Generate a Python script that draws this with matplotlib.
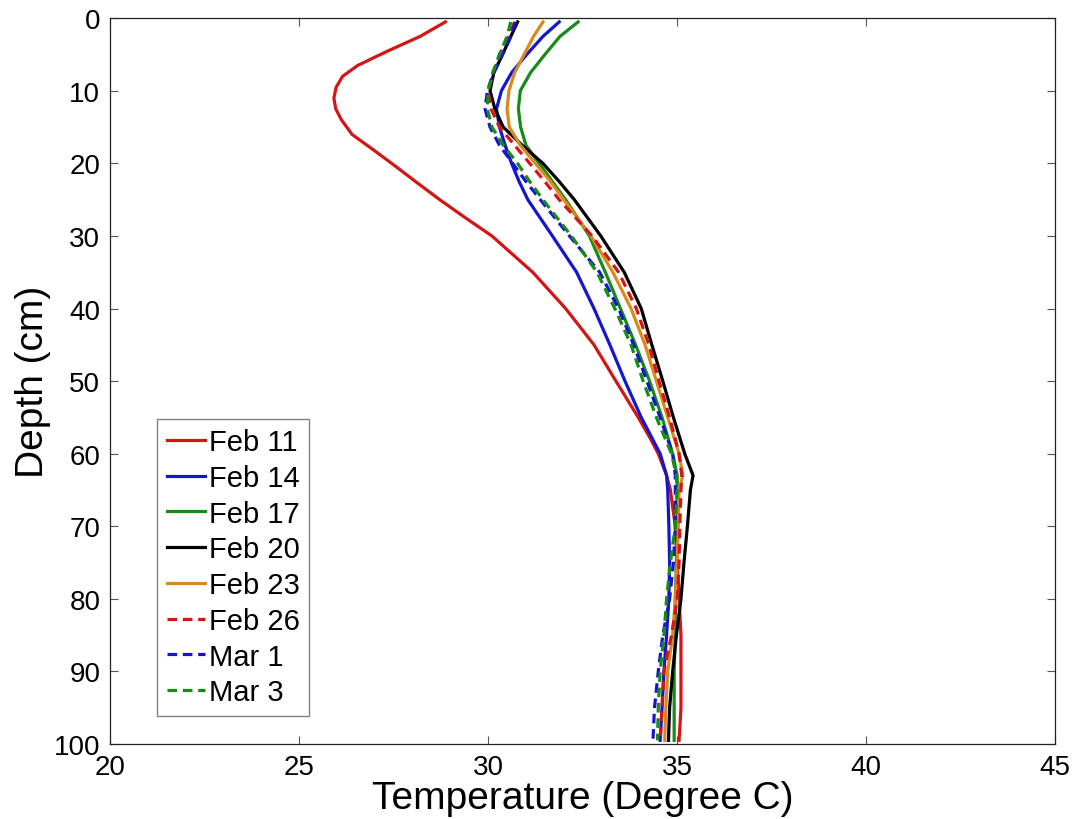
import matplotlib
matplotlib.use("Agg")
import matplotlib.pyplot as plt

plt.rcParams['font.family'] = ['Liberation Sans', 'DejaVu Sans']

depth = [0.5, 2.5, 5, 7.5, 10, 12.5, 15, 17.5, 20, 22.5, 25, 30, 35, 40, 45,
         50, 55, 60, 63, 65, 70, 75, 80, 85, 90, 95, 99.5]

depth_feb11 = [0.5, 2.5, 4.5, 6.5, 8, 9.5, 11, 12.5, 14, 16, 18, 20, 22.5, 25, 27.5,
               30, 35, 40, 45, 50, 55, 58, 60, 63, 65, 70, 75, 80, 85, 90, 95, 99.5]
feb11 = [28.87, 28.2, 27.35, 26.55, 26.15, 25.98, 25.92, 25.97, 26.12, 26.4, 26.93,
         27.45, 28.08, 28.72, 29.4, 30.1, 31.18, 32.05, 32.8, 33.38, 33.97, 34.3,
         34.5, 34.72, 34.82, 34.95, 35.0, 35.05, 35.1, 35.1, 35.1, 35.05]

feb14 = [31.88, 31.45, 31.02, 30.62, 30.35, 30.22, 30.3, 30.45, 30.62, 30.82, 31.05,
         31.7, 32.34, 32.8, 33.22, 33.62, 34.05, 34.55, 34.72, 34.75, 34.78, 34.8,
         34.78, 34.72, 34.65, 34.6, 34.55]
feb17 = [32.38, 31.9, 31.5, 31.12, 30.85, 30.8, 30.86, 31.0, 31.35, 31.7, 32.05,
         32.68, 33.1, 33.5, 33.9, 34.27, 34.6, 34.88, 35.0, 35.0, 35.0, 34.98,
         34.95, 34.95, 34.92, 34.92, 34.92]
feb20 = [30.78, 30.6, 30.38, 30.15, 30.05, 30.18, 30.4, 30.9, 31.45, 31.88, 32.28,
         32.98, 33.6, 34.05, 34.33, 34.62, 34.9, 35.2, 35.42, 35.35, 35.27, 35.18,
         35.1, 34.98, 34.88, 34.8, 34.77]
feb23 = [31.45, 31.2, 30.95, 30.7, 30.55, 30.5, 30.56, 30.85, 31.25, 31.65, 32.0,
         32.72, 33.3, 33.78, 34.15, 34.45, 34.75, 35.05, 35.15, 35.05, 35.03, 35.0,
         34.95, 34.88, 34.75, 34.7, 34.67]
feb26 = [30.7, 30.55, 30.3, 30.15, 30.0, 30.08, 30.3, 30.7, 31.1, 31.5, 31.88,
         32.75, 33.45, 33.92, 34.25, 34.52, 34.8, 35.05, 35.12, 35.1, 35.07, 35.05,
         35.0, 34.85, 34.65, 34.6, 34.55]
mar1 = [30.72, 30.6, 30.38, 30.15, 29.98, 29.92, 30.05, 30.3, 30.65, 31.0, 31.38,
        32.15, 32.95, 33.45, 33.85, 34.2, 34.55, 34.88, 34.95, 34.95, 34.95, 34.9,
        34.8, 34.62, 34.5, 34.4, 34.36]
mar3 = [30.6, 30.5, 30.3, 30.12, 30.0, 29.98, 30.1, 30.4, 30.78, 31.1, 31.45,
        32.2, 32.88, 33.35, 33.78, 34.1, 34.45, 34.85, 34.98, 35.0, 34.95, 34.82,
        34.72, 34.65, 34.55, 34.5, 34.48]

labels = ['Feb 11', 'Feb 14', 'Feb 17', 'Feb 20', 'Feb 23', 'Feb 26', 'Mar 1', 'Mar 3']
series = [feb11, feb14, feb17, feb20, feb23, feb26, mar1, mar3]
depths = [depth_feb11, depth, depth, depth, depth, depth, depth, depth]
colors = ['#d41515', '#1515d0', '#178a17', '#000000', '#d88a1e', '#d41515', '#1515d0', '#178a17']
styles = ['-', '-', '-', '-', '-', '--', '--', '--']

xticks = [20, 25, 30, 35, 40, 45]
yticks = [0, 10, 20, 30, 40, 50, 60, 70, 80, 90, 100]

fig = plt.figure(figsize=(10.79, 8.20), dpi=100)
ax = fig.add_axes([0.102, 0.0915, 0.876, 0.885])

for vals, dep, lab, c, ls in zip(series, depths, labels, colors, styles):
    line, = ax.plot(vals, dep, color=c, lw=2.3, ls=ls, label=lab)
    if ls == '--':
        line.set_dashes((3.0, 1.8))

ax.set_xlim(20, 45)
ax.set_ylim(100, 0)
ax.set_xticks(xticks)
ax.set_yticks(yticks)
ax.tick_params(direction='in', length=6, width=0.8, top=True, right=True,
               labelsize=20, pad=7, color='#555555')
for s in ax.spines.values():
    s.set_linewidth(0.9)
    s.set_color('#222222')

ax.set_xlabel('Temperature (Degree C)', fontsize=28, labelpad=0)
ax.set_ylabel('Depth (cm)', fontsize=28, labelpad=2)

leg = ax.legend(loc='lower left', bbox_to_anchor=(0.0497, 0.0386), borderaxespad=0,
                fontsize=21, handlelength=1.3, handletextpad=0.15, borderpad=0.33,
                labelspacing=0.265, fancybox=False, framealpha=1, edgecolor='#808080')
leg.get_frame().set_linewidth(1.0)

fig.savefig('out.png', dpi=100)
